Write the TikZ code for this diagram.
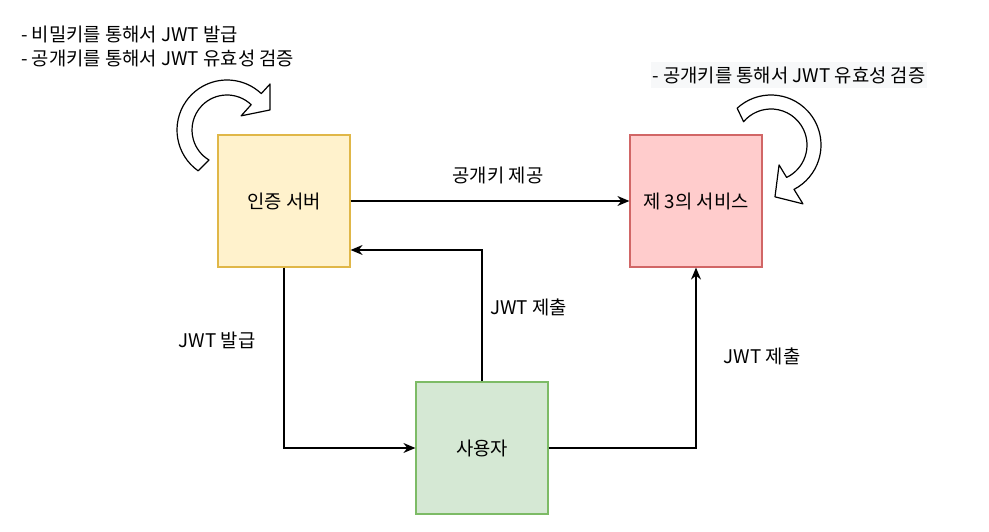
\documentclass[tikz,border=0pt]{standalone}
\usepackage{fontspec}
\setmainfont{Noto Sans CJK KR}
\definecolor{authyellow}{HTML}{FFF2CC}
\definecolor{authline}{HTML}{E0B748}
\definecolor{svcred}{HTML}{FFCCCC}
\definecolor{svcline}{HTML}{D16666}
\definecolor{usergreen}{HTML}{D5E8D4}
\definecolor{userline}{HTML}{7DBB66}
\definecolor{notegray}{HTML}{F7F8F9}
\usetikzlibrary{arrows.meta, positioning, calc}

\begin{document}
\begin{tikzpicture}[x=1pt, y=1pt,
    box/.style={draw, line width=1.2pt, minimum size=132pt, inner sep=0pt, font=\fontsize{18.8}{22}\selectfont},
    flow/.style={line width=1.3pt, -{Stealth[length=12pt, width=10pt]}},
    lbl/.style={font=\fontsize{18.8}{22}\selectfont, inner sep=1pt},
    turn/.style={draw, fill=white, line width=1.2pt, line join=round}]
    \useasboundingbox (0,0) rectangle (989,532);

    % notes
    \node[lbl, anchor=west, align=left, font=\fontsize{18.8}{24}\selectfont] (keynote) at (20,486)
        {- 비밀키를 통해서 JWT 발급\\- 공개키를 통해서 JWT 유효성 검증};
    \node[lbl, fill=notegray, inner xsep=2pt, inner ysep=4pt] (svcnote) at (789,457)
        {- 공개키를 통해서 JWT 유효성 검증};

    % curved arrows
    \begin{scope}[shift={(227,402)}]
        \draw[turn] (234.7:50) arc[start angle=234.7, end angle=46.7, radius=50]
            -- (46.9:63) -- (25:47.4) -- (45:20) -- (46.3:35)
            arc[start angle=46.3, end angle=239, radius=35] -- cycle;
    \end{scope}
    \begin{scope}[shift={(771,387)}]
        \draw[turn] (132.6:50) arc[start angle=132.6, end angle=-62.6, radius=50]
            -- (-61.5:67) -- (-85.6:52) -- (-68:21.5) -- (-64.3:36)
            arc[start angle=-64.3, end angle=139.6, radius=36] -- cycle;
    \end{scope}

    % boxes
    \node[box, fill=authyellow, draw=authline] (auth) at (284,331) {인증 서버};
    \node[box, fill=svcred, draw=svcline] (svc) at (696,331) {제 3의 서비스};
    \node[box, fill=usergreen, draw=userline] (user) at (482,84) {사용자};

    % connectors
    \draw[flow] (auth) -- (svc);
    \draw[flow] (user.north) |- ([yshift=-49pt]auth.east);
    \draw[flow] (auth.south) |- (user.west);
    \draw[flow] (user.east) -| (svc.south);

    \node[lbl] (pubkey) at (498,357) {공개키 제공};
    \node[lbl, anchor=west] (submit1) at (489,225) {JWT 제출};
    \node[lbl] (issue) at (217,192) {JWT 발급};
    \node[lbl] (submit2) at (762,176) {JWT 제출};
\end{tikzpicture}
\end{document}
